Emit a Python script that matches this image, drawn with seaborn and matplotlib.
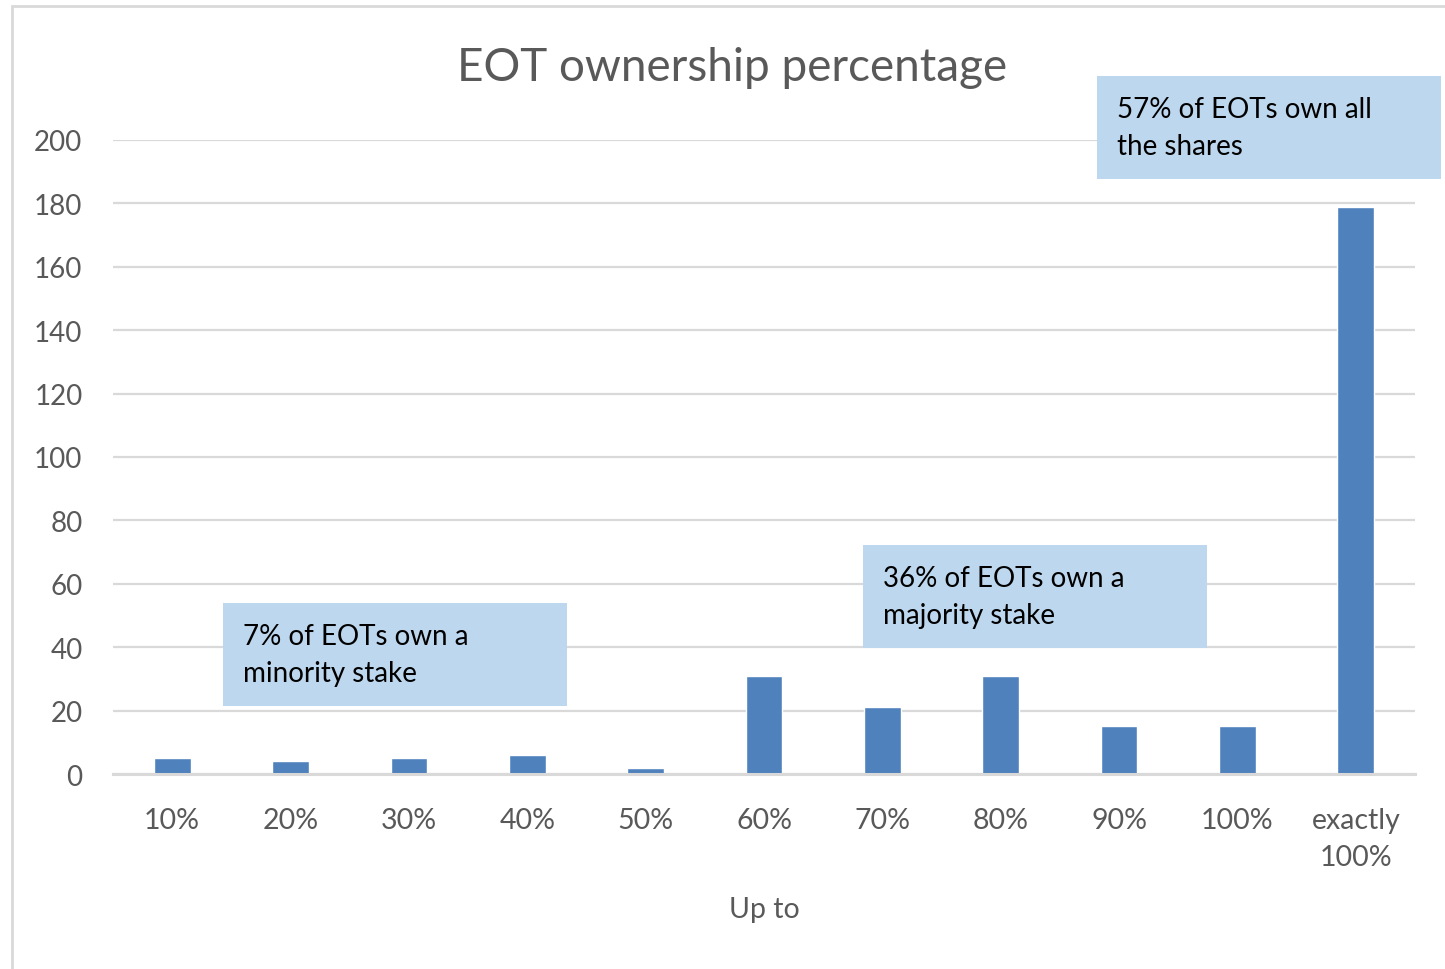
import numpy as np
import pandas as pd
import seaborn as sns
import matplotlib.pyplot as plt
from matplotlib.patches import Rectangle

# data
categories = ["10%", "20%", "30%", "40%", "50%", "60%", "70%", "80%",
              "90%", "100%", "exactly\n100%"]
counts = [5, 4, 5, 6, 2, 31, 21, 31, 15, 15, 179]
y_ticks = [0, 20, 40, 60, 80, 100, 120, 140, 160, 180, 200]
notes = ["7% of EOTs own a\nminority stake",
         "36% of EOTs own a\nmajority stake",
         "57% of EOTs own all\nthe shares"]

sns.set_style("white")
plt.rcParams['font.family'] = ['Lato', 'DejaVu Sans']

W, H = 1445, 970
fig = plt.figure(figsize=(W / 100, H / 100), dpi=100)
ax = fig.add_axes([113 / W, 1 - 775 / H, (1415 - 113) / W, (775 - 141) / H])

df = pd.DataFrame({"cat": categories, "n": counts})
sns.barplot(data=df, x="cat", y="n", color="#4F81BD", width=0.31,
            saturation=1, ax=ax, zorder=3)

grey = "#D9D9D9"
txt = "#595959"
ax.set_ylim(0, 200)
ax.set_xlim(-0.5, len(categories) - 0.5)
ax.set_yticks(y_ticks)
ax.yaxis.grid(True, color=grey, linewidth=1.6, zorder=0)
for s in ["top", "right", "left"]:
    ax.spines[s].set_visible(False)
ax.spines["bottom"].set_color(grey)
ax.spines["bottom"].set_linewidth(2.2)
ax.spines["bottom"].set_zorder(4)
ax.tick_params(axis="y", length=0, labelsize=20, colors=txt, pad=22)
ax.tick_params(axis="x", length=0, labelsize=20.5, colors=txt, pad=24)
for lab in ax.get_xticklabels():
    lab.set_linespacing(1.5)
ax.set_xlabel("Up to", fontsize=20.5, color=txt, labelpad=19)
ax.set_ylabel("")

fig.text(732 / W, 1 - 68 / H, "EOT ownership percentage", ha="center",
         va="center", fontsize=33, color=txt)

# outer chart frame
fig.add_artist(Rectangle((12 / W, -0.1), 1.2, 1 - 7 / H + 0.1,
                         transform=fig.transFigure, fill=False,
                         edgecolor=grey, linewidth=2))

# annotation boxes (left, top in pixels)
boxes = [(223, 604), (863, 546), (1097, 77)]
bw, bh = 344, 103
for (x0, y0), note in zip(boxes, notes):
    fig.add_artist(Rectangle((x0 / W, 1 - (y0 + bh) / H), bw / W, bh / H,
                             transform=fig.transFigure, facecolor="#BDD7EE",
                             edgecolor="none", zorder=5))
    fig.text((x0 + 20) / W, 1 - (y0 + bh / 2) / H, note, ha="left",
             va="center", fontsize=20, color="black", linespacing=1.54,
             zorder=6)

fig.savefig("out.png", dpi=100, facecolor="white")
